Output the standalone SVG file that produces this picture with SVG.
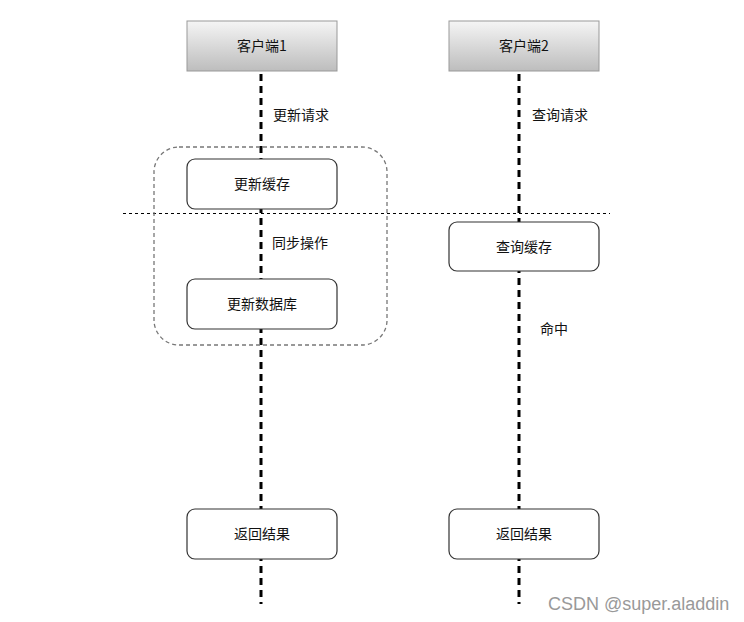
<svg xmlns="http://www.w3.org/2000/svg" width="744" height="622" viewBox="0 0 744 622">
<defs>
<linearGradient id="hdr" x1="0" y1="0" x2="0" y2="1">
<stop offset="0" stop-color="#f5f5f5"/>
<stop offset="1" stop-color="#bdbdbd"/>
</linearGradient>
<style>
text{font-family:"Noto Sans CJK SC","Liberation Sans",sans-serif;font-size:14px;fill:#111}
.c{text-anchor:middle}
.life{stroke:#000;stroke-width:3;stroke-dasharray:7 5;fill:none}
.sep{stroke:#000;stroke-width:1;stroke-dasharray:3 3;fill:none}
.grp{stroke:#777;stroke-width:1.3;stroke-dasharray:4 3;fill:none}
.hdr{fill:url(#hdr);stroke:#999;stroke-width:1}
.box{fill:#fff;stroke:#333;stroke-width:1.2}
.wm{font-family:"Liberation Sans",sans-serif;font-size:18px;fill:#999}
</style>
</defs>
<rect width="744" height="622" fill="#fff"/>
<g id="connectors">
<line class="life" x1="261" y1="74" x2="261" y2="604"/>
<line class="life" x1="519" y1="74" x2="519" y2="604"/>
<line class="sep" x1="123" y1="213.5" x2="610" y2="213.5"/>
</g>
<g id="group-sync">
<rect class="grp" x="154" y="147" width="233" height="198" rx="25" ry="25"/>
</g>
<g id="client1">
<rect class="hdr" x="187" y="21" width="150" height="50"/>
<text class="c" x="262" y="51">客户端1</text>
</g>
<g id="client2">
<rect class="hdr" x="449" y="21" width="150" height="50"/>
<text class="c" x="524" y="51">客户端2</text>
</g>
<g id="update-cache">
<rect class="box" x="187" y="159" width="150" height="50" rx="8"/>
<text class="c" x="262" y="189">更新缓存</text>
</g>
<g id="update-db">
<rect class="box" x="187" y="279" width="150" height="50" rx="8"/>
<text class="c" x="262" y="309">更新数据库</text>
</g>
<g id="query-cache">
<rect class="box" x="449" y="222" width="150" height="49" rx="8"/>
<text class="c" x="524" y="252">查询缓存</text>
</g>
<g id="return1">
<rect class="box" x="187" y="509" width="150" height="50" rx="8"/>
<text class="c" x="262" y="539">返回结果</text>
</g>
<g id="return2">
<rect class="box" x="449" y="509" width="150" height="50" rx="8"/>
<text class="c" x="524" y="539">返回结果</text>
</g>
<g id="labels">
<text x="273" y="120">更新请求</text>
<text x="532" y="120">查询请求</text>
<text x="272" y="248">同步操作</text>
<text x="540" y="334">命中</text>
</g>
<text class="wm" x="548" y="610">CSDN @super.aladdin</text>
</svg>
